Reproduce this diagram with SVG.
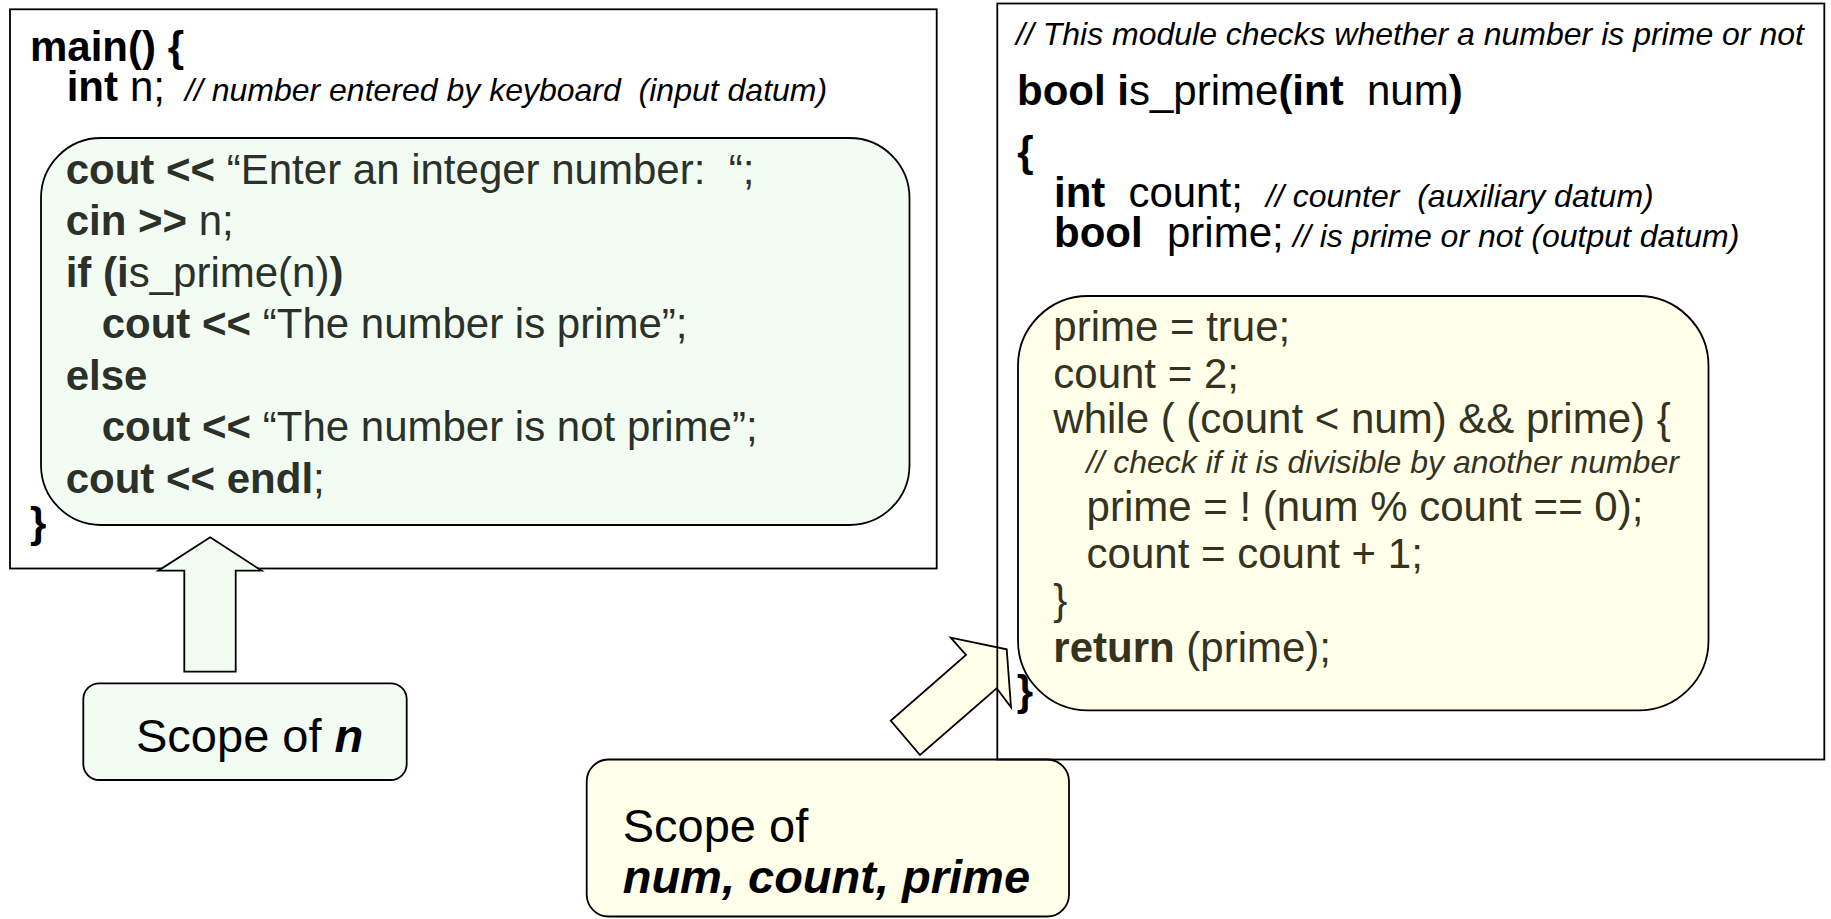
<svg xmlns="http://www.w3.org/2000/svg" width="1831" height="919" viewBox="0 0 1831 919">
<style>
text{font-family:"Liberation Sans",Arial,Helvetica,sans-serif;font-size:42px;fill:#000}
.b{font-weight:bold}
.r{font-weight:normal}
.i{font-style:italic}
.c{font-size:32px;font-style:italic;font-weight:normal}
.g text{fill:#2b3128}
.y text{fill:#33331f}
.frame{fill:#fff;stroke:#000;stroke-width:1.8}
.frame2{fill:none;stroke:#000;stroke-width:1.8}
.gfill{fill:#f2fcf2;stroke:#000;stroke-width:1.8}
.yfill{fill:#ffffea;stroke:#000;stroke-width:1.8}
.lab{font-size:47px}
</style>
<rect x="0" y="0" width="1831" height="919" fill="#fff"/>

<g id="main-function">
<rect class="frame" x="10" y="9.3" width="926.7" height="559.2"/>
<text xml:space="preserve" x="30" y="61" class="b">main() {</text>
<text xml:space="preserve" y="101"><tspan x="66.7" class="b">int</tspan><tspan x="130">n;</tspan><tspan x="185" class="c">// number entered by keyboard  (input datum)</tspan></text>
<text xml:space="preserve" x="30" y="537" class="b">}</text>
</g>

<g id="scope-main" class="g">
<rect class="gfill" x="41" y="138" width="868.5" height="387" rx="60" ry="60"/>
<text xml:space="preserve" x="65.7" y="183.5"><tspan class="b">cout &lt;&lt; </tspan>“Enter an integer number:  “;</text>
<text xml:space="preserve" x="65.7" y="235"><tspan class="b">cin &gt;&gt; </tspan>n;</text>
<text xml:space="preserve" x="65.7" y="286.7"><tspan class="b">if (i</tspan>s_prime(n)<tspan class="b">)</tspan></text>
<text xml:space="preserve" x="101.7" y="338.3"><tspan class="b">cout &lt;&lt; </tspan>“The number is prime”;</text>
<text xml:space="preserve" x="65.7" y="389.5" class="b">else</text>
<text xml:space="preserve" x="101.7" y="441"><tspan class="b">cout &lt;&lt; </tspan>“The number is not prime”;</text>
<text xml:space="preserve" x="65.7" y="492.5"><tspan class="b">cout &lt;&lt; endl</tspan>;</text>
</g>

<g id="label-n">
<rect class="gfill" x="83.3" y="683.3" width="323.4" height="96.7" rx="16" ry="16"/>
<text xml:space="preserve" x="136" y="752.3" class="lab">Scope of <tspan class="b i">n</tspan></text>
</g>

<g id="label-num">
<rect class="yfill" x="586.7" y="759.5" width="482.3" height="157" rx="22" ry="22"/>
<text xml:space="preserve" x="622.7" y="841.7" class="lab">Scope of</text>
<text xml:space="preserve" x="622.7" y="893.3" class="lab b i">num, count, prime</text>
</g>

<g id="connectors">
<polygon class="gfill" points="210.2,537.3 261.7,570.7 235.7,570.7 235.7,671.7 184.3,671.7 184.3,570.7 158.3,570.7"/>
<polygon class="yfill" points="890.7,720.7 966,655 950.7,637.7 1006.7,649.3 1011,707.3 996.7,688.3 920,755"/>
</g>

<g id="is-prime-function">
<rect class="frame2" x="997.3" y="3.5" width="827" height="756"/>
<text xml:space="preserve" x="1016" y="44.8" class="c">// This module checks whether a number is prime or not</text>
<text xml:space="preserve" x="1017" y="105"><tspan class="b">bool i</tspan>s_prime<tspan class="b">(int</tspan>  num<tspan class="b">)</tspan></text>
<text xml:space="preserve" x="1017.3" y="165.6" class="b">{</text>
<text xml:space="preserve" y="206.7"><tspan x="1054" class="b">int</tspan><tspan x="1128.4">count;</tspan><tspan x="1266" class="c">// counter  (auxiliary datum)</tspan></text>
<text xml:space="preserve" y="246.5"><tspan x="1054" class="b">bool</tspan><tspan x="1167">prime;</tspan><tspan x="1293" class="c">// is prime or not (output datum)</tspan></text>
<text xml:space="preserve" x="1016.8" y="705" class="b">}</text>
</g>

<g id="scope-is-prime" class="y">
<rect class="yfill" x="1018" y="296" width="690.5" height="414.4" rx="70" ry="70"/>
<text xml:space="preserve" x="1053.3" y="341">prime = true;</text>
<text xml:space="preserve" x="1053.3" y="387.7">count = 2;</text>
<text xml:space="preserve" x="1053.3" y="433">while ( (count &lt; num) &amp;&amp; prime) {</text>
<text xml:space="preserve" x="1086.6" y="473" class="c">// check if it is divisible by another number</text>
<text xml:space="preserve" x="1086.6" y="520.5">prime = ! (num % count == 0);</text>
<text xml:space="preserve" x="1086.6" y="567.5">count = count + 1;</text>
<text xml:space="preserve" x="1053.3" y="614">}</text>
<text xml:space="preserve" x="1053.3" y="661.5"><tspan class="b">return</tspan> (prime);</text>
</g>
</svg>
